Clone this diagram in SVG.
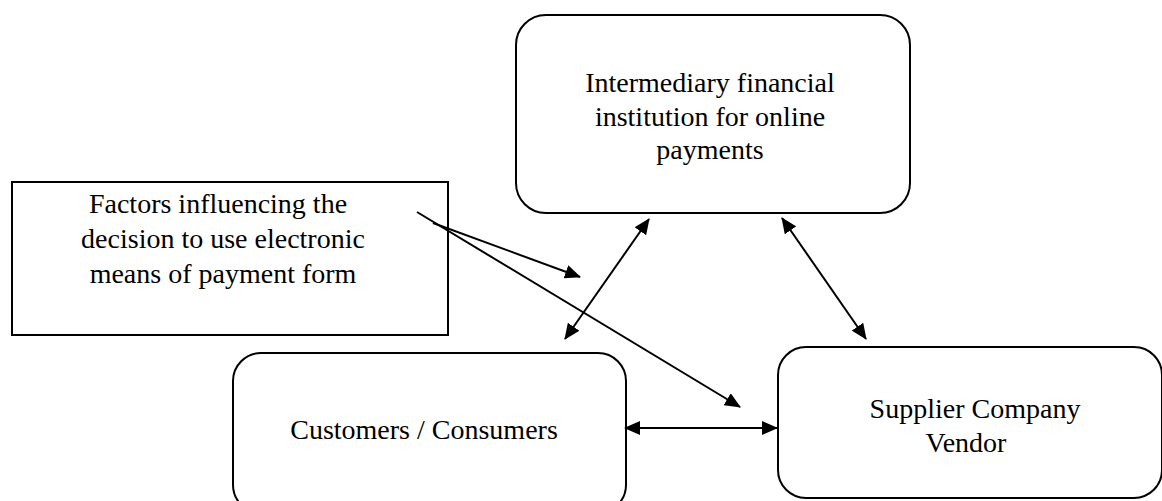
<svg xmlns="http://www.w3.org/2000/svg" width="1162" height="501" viewBox="0 0 1162 501">
<style>
.box{fill:#fff;stroke:#000;stroke-width:2}
.lbl{font-family:"Liberation Serif","Times New Roman",serif;font-size:28px;fill:#000;text-anchor:middle}
.con{stroke:#000;stroke-width:2;fill:none}
</style>
<defs>
<marker id="ah" markerWidth="16" markerHeight="14" refX="15" refY="7" orient="auto-start-reverse" markerUnits="userSpaceOnUse">
<path d="M0,0 L16,7 L0,14 z" fill="#000"/>
</marker>
</defs>
<rect width="1162" height="501" fill="#fff"/>
<g id="node-factors">
<rect class="box" x="12" y="182" width="436" height="153"/>
<text class="lbl" x="218" y="213">Factors influencing the</text>
<text class="lbl" x="223" y="248">decision to use electronic</text>
<text class="lbl" x="223" y="283">means of payment form</text>
</g>
<g id="node-intermediary">
<rect class="box" x="516" y="15" width="394" height="198" rx="30" ry="30"/>
<text class="lbl" x="710" y="92">Intermediary financial</text>
<text class="lbl" x="710" y="126">institution for online</text>
<text class="lbl" x="710" y="159">payments</text>
</g>
<g id="node-customers">
<rect class="box" x="233" y="353" width="393" height="160" rx="28" ry="28"/>
<text class="lbl" x="424" y="439">Customers / Consumers</text>
</g>
<g id="node-supplier">
<rect class="box" x="778" y="347" width="384" height="151" rx="28" ry="28"/>
<text class="lbl" x="975" y="418">Supplier Company</text>
<text class="lbl" x="966" y="452">Vendor</text>
</g>
<g id="connectors">
<line class="con" x1="417" y1="212" x2="740" y2="407" marker-end="url(#ah)"/>
<line class="con" x1="433" y1="223" x2="580" y2="277" marker-end="url(#ah)"/>
<line class="con" x1="565" y1="339" x2="649" y2="219" marker-start="url(#ah)" marker-end="url(#ah)"/>
<line class="con" x1="782" y1="218" x2="866" y2="339" marker-start="url(#ah)" marker-end="url(#ah)"/>
<line class="con" x1="625" y1="428" x2="777" y2="428" marker-start="url(#ah)" marker-end="url(#ah)"/>
</g>
</svg>
